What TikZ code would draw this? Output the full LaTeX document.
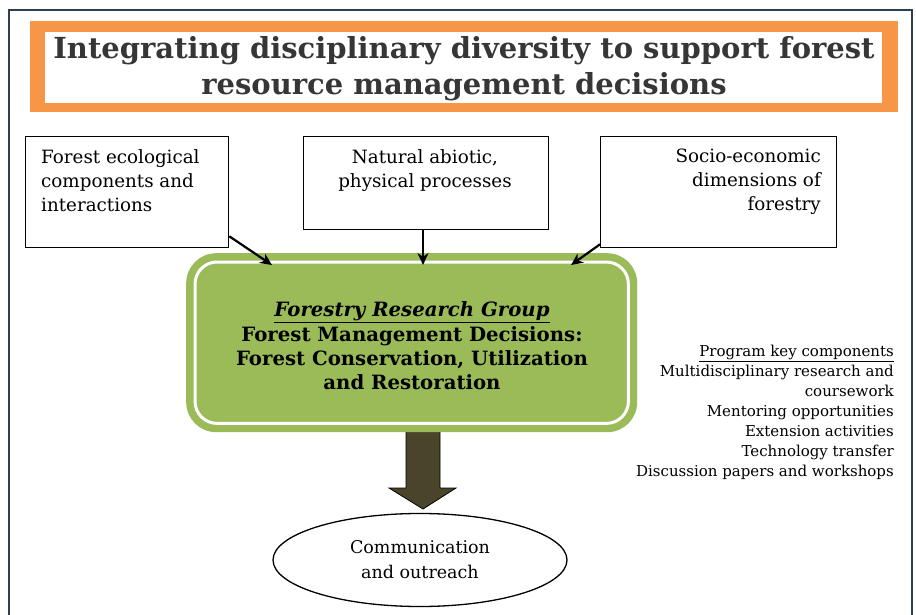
\documentclass[tikz,border=0pt]{standalone}
\usepackage{fontspec}
\setmainfont{DejaVu Serif}
\usetikzlibrary{shapes.geometric,arrows.meta}

\definecolor{frameblue}{HTML}{2E3F52}
\definecolor{titleorange}{HTML}{F79646}
\definecolor{frggreen}{HTML}{9BBB59}
\definecolor{arrowbrown}{HTML}{4A452A}
\definecolor{titlegray}{HTML}{363636}

\begin{document}
\begin{tikzpicture}[x=1pt,y=-1pt,
    srcbox/.style={draw=black, line width=1.3pt, fill=white, inner sep=0pt},
    boxtext/.style={font=\fontsize{18.3}{24}\selectfont, inner sep=0pt},
    feed/.style={-{Stealth[length=12pt,width=11pt]}, line width=2.2pt},
    bigarrow/.style={fill=arrowbrown, draw=black, line width=0.8pt}]
        \useasboundingbox (0,0) rectangle (916,615);
        \draw [frameblue, line width=2pt] (9,615) -- (9,10) -- (912,10) -- (912,615);
        % title
        \fill [titleorange] (30,21) rectangle (898,112);
        \fill [white] (45,32) rectangle (882,103);
        \node[font=\bfseries\fontsize{29}{36}\selectfont, text=titlegray, align=center] (title) at (464,69)
            {Integrating disciplinary diversity to support forest\\resource management decisions};
        % three source boxes
        \node[srcbox, minimum width=203pt, minimum height=111pt, anchor=north west] (eco) at (25,136) {};
        \node[srcbox, minimum width=245pt, minimum height=93pt, anchor=north west] (abio) at (303,136) {};
        \node[srcbox, minimum width=236pt, minimum height=111pt, anchor=north west] (socio) at (600,136) {};
        \node[boxtext, anchor=north west, align=left] (ecotext) at (41,149)
            {Forest ecological\\components and\\interactions};
        \node[boxtext, anchor=north, align=center] (abiotext) at (425,149)
            {Natural abiotic,\\physical processes};
        \node[boxtext, anchor=north east, align=right] (sociotext) at (821,149)
            {Socio-economic\\dimensions of\\forestry};
        % big arrow down
        \draw[bigarrow] (406,430) -- (406,488) -- (389,488) -- (423,509) -- (456,488) -- (440,488) -- (440,430);
        % research group
        \node[fill=frggreen, rounded corners=30pt, minimum width=451pt, minimum height=179pt, anchor=north west] (frg) at (186,253) {};
        \draw[white, line width=3pt, rounded corners=22pt] ([shift={(9,9)}]frg.north west) rectangle ([shift={(-9,-9)}]frg.south east);
        \node[font=\bfseries\fontsize{19.7}{24.3}\selectfont, align=center] (frgtext) at (412,346)
            {\underline{\itshape Forestry Research Group}\\Forest Management Decisions:\\Forest Conservation, Utilization\\and Restoration};
        \draw[feed] ([yshift=12pt]eco.south east) -- ([shift={(86,12)}]frg.north west);
        \draw[feed] (abio.south -| 423,0) -- ([shift={(237,12)}]frg.north west);
        \draw[feed] ([yshift=4pt]socio.south west) -- ([shift={(385,12)}]frg.north west);
        % outreach
        \node[draw=black, line width=1.3pt, ellipse, minimum width=294pt, minimum height=93pt, align=center,
            font=\fontsize{17.5}{25}\selectfont] (comm) at (420,560) {Communication\\and outreach};
        % key components
        \node[font=\fontsize{15}{20}\selectfont, align=right, anchor=north east, inner sep=0pt] (keys) at (894,345)
            {\underline{Program key components}\\Multidisciplinary research and\\coursework\\Mentoring opportunities\\Extension activities\\Technology transfer\\Discussion papers and workshops};
\end{tikzpicture}
\end{document}
